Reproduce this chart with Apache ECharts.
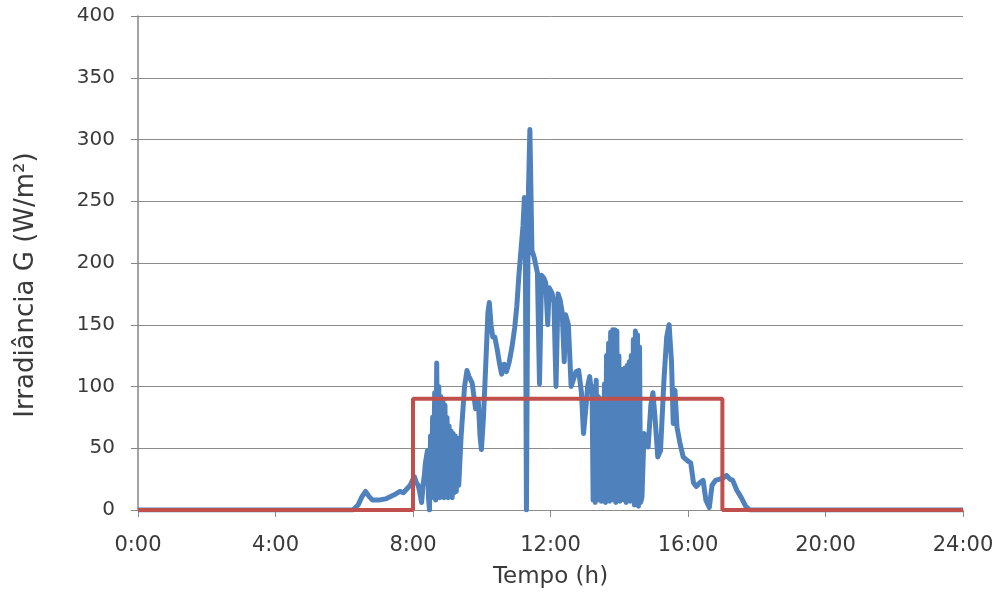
<!DOCTYPE html>
<html>
<head>
<meta charset="utf-8">
<title>Irradiância</title>
<script src="https://cdn.jsdelivr.net/npm/echarts@6/dist/echarts.min.js"></script>
<style>
  html, body { margin: 0; padding: 0; background: #fff; }
  #chart { width: 1004px; height: 601px; }
</style>
</head>
<body>
<div id="chart"></div>
<script>
// eixo x (horas)
var xTicks = [0, 4, 8, 12, 16, 20, 24];
var yTicks = [0, 50, 100, 150, 200, 250, 300, 350, 400];

// irradiancia medida (azul)
var blueTime = [
  0, 6.25, 6.40, 6.52, 6.62, 6.72, 6.82, 7.00, 7.20, 7.35, 7.50, 7.62, 7.72, 7.82, 7.92, 7.98,
  8.04, 8.10, 8.15, 8.20, 8.25, 8.30, 8.33, 8.36, 8.42, 8.45, 8.48, 8.51, 8.54, 8.57, 8.60,
  8.63, 8.66, 8.69, 8.72, 8.75, 8.78, 8.81, 8.84, 8.87, 8.90, 8.93, 8.96, 8.99, 9.02, 9.05,
  9.08, 9.11, 9.14, 9.17, 9.20, 9.23, 9.26, 9.30, 9.33, 9.40, 9.50, 9.57, 9.63, 9.72, 9.82,
  9.90, 9.95, 9.99, 10.05, 10.12, 10.18, 10.22, 10.27, 10.32, 10.38, 10.45, 10.52, 10.58,
  10.65, 10.72, 10.80, 10.88, 10.96, 11.02, 11.08, 11.14, 11.20, 11.24, 11.27, 11.30, 11.33,
  11.36, 11.40, 11.43, 11.46, 11.52, 11.62, 11.68, 11.74, 11.80, 11.86, 11.92, 11.96, 12.04,
  12.10, 12.16, 12.22, 12.28, 12.34, 12.40, 12.44, 12.52, 12.60, 12.66, 12.74, 12.82, 12.90,
  12.96, 13.02, 13.08, 13.14, 13.18,
  13.21, 13.24, 13.27, 13.30, 13.33, 13.36, 13.39, 13.42, 13.45, 13.48, 13.51, 13.54, 13.57,
  13.60, 13.63, 13.66, 13.69, 13.72, 13.75, 13.78, 13.81, 13.84, 13.87, 13.90, 13.93, 13.96,
  13.99, 14.02, 14.05, 14.08, 14.11, 14.14, 14.17, 14.20, 14.23, 14.26, 14.29, 14.32, 14.35,
  14.38, 14.41, 14.44, 14.47, 14.50, 14.53, 14.56, 14.59, 14.62,
  14.66, 14.72, 14.78, 14.84, 14.92, 14.98, 15.04, 15.12, 15.20, 15.30, 15.38, 15.45, 15.52,
  15.57, 15.62, 15.68, 15.76, 15.86, 15.98, 16.08, 16.16, 16.24, 16.34, 16.44, 16.52, 16.62,
  16.70, 16.80, 16.92, 17.02, 17.12, 17.22, 17.30, 17.42, 17.55, 17.68, 17.80, 24
];
var blueIrr = [
  0, 0, 4, 11, 15, 11, 8, 8, 9, 11, 13, 15, 14, 17, 20, 24,
  27, 22, 20, 14, 6, 22, 28, 38, 48, 10, 0, 60, 12, 75, 10,
  95, 8, 119, 15, 100, 10, 92, 12, 88, 10, 85, 12, 75, 10, 68,
  12, 64, 10, 62, 14, 60, 15, 58, 20, 60, 100, 113, 108, 103, 82,
  88, 60, 49, 75, 120, 160, 168, 150, 140, 140, 130, 118, 110,
  118, 112, 120, 132, 148, 165, 190, 210, 230, 253, 200, 0, 150,
  260, 308, 260, 210, 205, 192, 102, 190, 188, 184, 150, 180, 176,
  168, 100, 175, 170, 160, 120, 158, 150, 100, 105, 112, 113, 95,
  62, 80, 100, 108, 98,
  95, 8, 100, 6, 105, 8, 92, 10, 80, 7, 90, 9, 102,
  6, 125, 8, 135, 7, 144, 10, 146, 8, 146, 6, 145, 9,
  125, 7, 112, 10, 114, 8, 115, 6, 117, 9, 120, 7, 125,
  10, 138, 4, 145, 8, 142, 3, 132, 6,
  10, 62, 55, 51, 85, 95, 75, 43, 48, 105, 140, 150, 120,
  70, 97, 67, 55, 43, 40, 38, 22, 19, 22, 24, 8, 2,
  20, 24, 25, 26, 28, 25, 24, 16, 10, 3, 0, 0
];

// limiar (vermelho)
var redTime = [0, 8, 8, 17, 17, 24];
var redIrr = [0, 0, 90, 90, 0, 0];

function zip(a, b) {
  var out = [];
  for (var i = 0; i < a.length; i++) {
    out.push([a[i], b[i]]);
  }
  return out;
}

function initECharts(dom, options) {
  var myEchart = echarts.init(dom);
  myEchart.setOption(options);
  return myEchart;
}

var txt = '#3a3a3a';
var font = 'DejaVu Sans, sans-serif';

var options = {
  animation: false,
  backgroundColor: '#fff',
  grid: { left: 138, right: 41, top: 16, bottom: 91, containLabel: false },
  xAxis: {
    type: 'value',
    min: xTicks[0],
    max: xTicks[xTicks.length - 1],
    interval: 4,
    name: 'Tempo (h)',
    nameLocation: 'middle',
    nameGap: 56,
    nameTextStyle: { color: txt, fontSize: 23, fontFamily: font },
    axisLine: { show: true, lineStyle: { color: '#8c8c8c', width: 1 } },
    axisTick: { show: true, length: 7, lineStyle: { color: '#8c8c8c' } },
    axisLabel: {
      color: txt, fontSize: 21, fontFamily: font, margin: 25,
      formatter: function (v) { return v + ':00'; }
    },
    splitLine: { show: false }
  },
  yAxis: {
    type: 'value',
    min: yTicks[0],
    max: yTicks[yTicks.length - 1],
    interval: 50,
    name: 'Irradiância G (W/m²)',
    nameLocation: 'middle',
    nameGap: 99,
    nameTextStyle: { color: txt, fontSize: 26, fontFamily: font, padding: [0, 44, 0, 0] },
    axisLine: { show: true, lineStyle: { color: '#868686', width: 1.5 } },
    axisTick: { show: true, length: 7, lineStyle: { color: '#868686' } },
    axisLabel: { color: txt, fontSize: 20, fontFamily: font, margin: 23 },
    splitLine: { show: true, lineStyle: { color: '#8c8c8c', width: 1 } }
  },
  series: [
    {
      name: 'G',
      type: 'line',
      data: zip(blueTime, blueIrr),
      showSymbol: false,
      lineStyle: { color: '#4F81BD', width: 5, join: 'round' },
      itemStyle: { color: '#4F81BD' }
    },
    {
      name: 'limiar',
      type: 'line',
      data: zip(redTime, redIrr),
      showSymbol: false,
      lineStyle: { color: '#C0504D', width: 4 },
      itemStyle: { color: '#C0504D' }
    }
  ]
};

initECharts(document.getElementById('chart'), options);
</script>
</body>
</html>
